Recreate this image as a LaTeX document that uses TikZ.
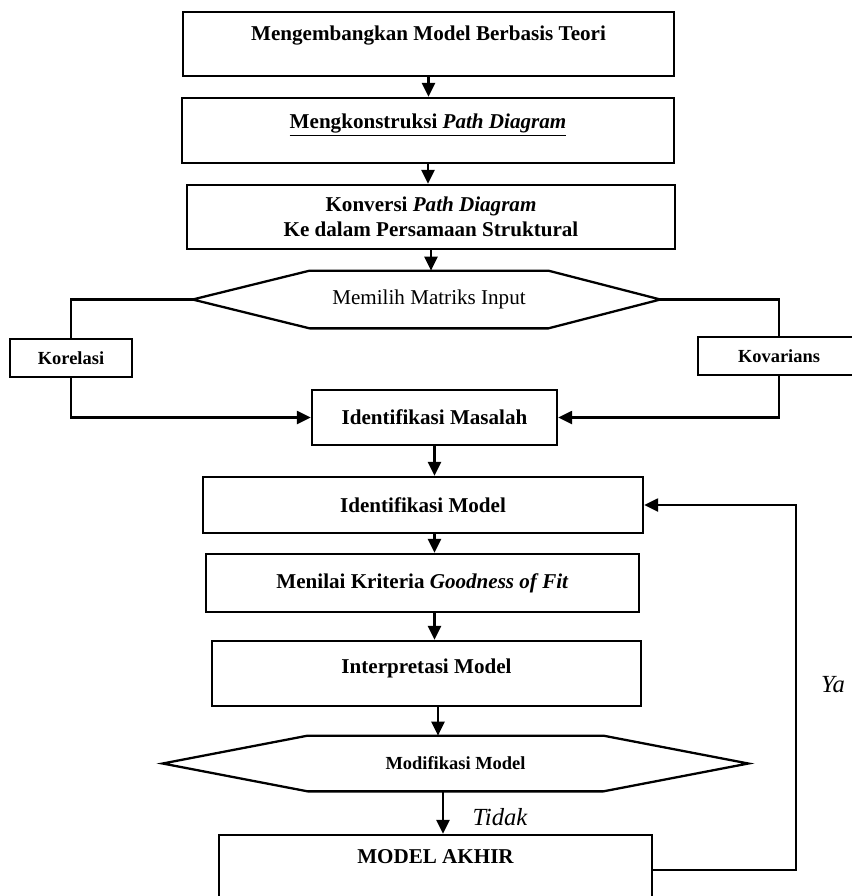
\documentclass[tikz,border=0pt]{standalone}
\usepackage{fontspec}
\setmainfont{Liberation Serif}
\usetikzlibrary{arrows.meta}

\begin{document}
\begin{tikzpicture}

	\tikzstyle{box}=[draw=black,line width=1.3pt,fill=white,
		align=center,font=\fontsize{12}{14}\selectfont\bfseries]
	\tikzstyle{choice}=[draw=black,line width=1.3pt,fill=white,
		minimum height=0.76cm,font=\fontsize{10.5}{12}\selectfont\bfseries]
	\tikzstyle{hexa}=[align=center,font=\fontsize{12}{14}\selectfont]
	\tikzstyle{link}=[line width=1.3pt,-{Triangle[length=0.28cm,width=0.26cm]}]
	\tikzstyle{wire}=[line width=1.3pt]
	\tikzstyle{answer}=[font=\fontsize{14}{16}\selectfont\itshape]

	\useasboundingbox (0,0) rectangle (17.02,-17.92);

	\node[box,minimum width=9.82cm,minimum height=1.28cm] (teori) at (8.57,-0.88)
		{Mengembangkan Model Berbasis Teori\\[-1.5pt]~};
	\node[box,minimum width=9.84cm,minimum height=1.30cm] (path) at (8.56,-2.61)
		{\underline{Mengkonstruksi \textit{Path Diagram}}\\[-3pt]~};
	\node[box,minimum width=9.76cm,minimum height=1.28cm] (konversi) at (8.62,-4.34)
		{Konversi \textit{Path Diagram}\\Ke dalam Persamaan Struktural};

	\node[hexa,minimum width=4.76cm,minimum height=1.14cm] (matriks) at (8.58,-5.99)
		{Memilih Matriks Input};
	\coordinate (mw) at ([xshift=-2.34cm]matriks.west);
	\coordinate (me) at ([xshift=2.24cm]matriks.east);
	\draw[wire] (matriks.north west) -- (matriks.north east) -- (me)
		-- (matriks.south east) -- (matriks.south west) -- (mw) -- cycle;

	\node[choice,minimum width=2.44cm] (korelasi) at (1.42,-7.16) {Korelasi};
	\node[choice,minimum width=3.24cm] (kovarians) at (15.58,-7.12) {Kovarians};

	\node[box,minimum width=4.90cm,minimum height=1.10cm] (masalah) at (8.69,-8.35)
		{Identifikasi Masalah};
	\node[box,minimum width=8.80cm,minimum height=1.12cm] (model) at (8.46,-10.10)
		{Identifikasi Model};
	\node[box,minimum width=8.66cm,minimum height=1.16cm] (fit) at (8.45,-11.66)
		{Menilai Kriteria \textit{Goodness of Fit}};
	\node[box,minimum width=8.58cm,minimum height=1.30cm] (interp) at (8.53,-13.47)
		{Interpretasi Model\\[-6pt]~};

	\node[hexa,minimum width=5.90cm,minimum height=1.10cm,
		font=\fontsize{10.5}{12}\selectfont\bfseries] (modif) at (9.11,-15.27)
		{Modifikasi Model};
	\coordinate (dw) at ([xshift=-2.90cm]modif.west);
	\coordinate (de) at ([xshift=2.90cm]modif.east);
	\draw[wire] (modif.north west) -- (modif.north east) -- (de)
		-- (modif.south east) -- (modif.south west) -- (dw) -- cycle;

	\node[box,minimum width=8.66cm,minimum height=1.40cm] (akhir) at (8.71,-17.40)
		{MODEL AKHIR\\[1pt]~};

	\draw[link] (teori.south) -- (teori.south |- path.north);
	\draw[link] (path.south) -- (path.south |- konversi.north);
	\draw[link] (konversi.south) -- (konversi.south |- matriks.north);
	\draw[wire] (mw) -| (korelasi.north);
	\draw[wire] (me) -| (kovarians.north);
	\draw[link] (korelasi.south) |- (masalah.west);
	\draw[link] (kovarians.south) |- (masalah.east);
	\draw[link] (masalah.south) -- (masalah.south |- model.north);
	\draw[link] (model.south -| masalah) -- (fit.north -| masalah);
	\draw[link] (fit.south -| masalah) -- (interp.north -| masalah);
	\draw[link] ([xshift=0.05cm]interp.south -| akhir) -- ([xshift=0.05cm]modif.north -| akhir);
	\draw[link] ([xshift=0.15cm]modif.south -| akhir) -- ([xshift=0.15cm]akhir.north);
	\draw[link] (akhir.east) -- ++(2.86,0) |- (model.east);

	\node[answer] (tidak) at (10.0,-16.34) {Tidak};
	\node[answer] (ya) at (16.66,-13.70) {Ya};

\end{tikzpicture}
\end{document}
